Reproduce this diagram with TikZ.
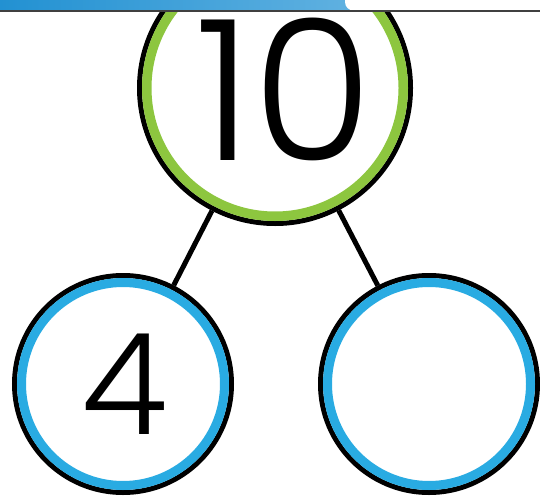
\documentclass[tikz,border=0pt]{standalone}
\usepackage{fontspec}
\newfontfamily\digitfont{Poppins}[UprightFont=* Light]
\definecolor{ringgreen}{RGB}{141,198,63}
\definecolor{ringblue}{RGB}{41,171,226}
\definecolor{barleft}{RGB}{34,145,210}
\definecolor{barright}{RGB}{98,178,225}
\tikzset{
  ring/.style={circle, draw=black, line width=5pt, minimum size=#1, inner sep=0pt, fill=white},
  link/.style={draw=black, line width=5pt},
  digit/.style={inner sep=0pt, font=\digitfont\fontsize{#1}{#1}\selectfont}
}
\begin{document}
\begin{tikzpicture}[x=1pt,y=-1pt]
\useasboundingbox[fill=white] (0,0) rectangle (540,495);
% circles
\node[ring=271pt] (top) at (275,88) {};
\node[ring=217pt] (left) at (123,384) {};
\node[ring=217pt] (right) at (429,384) {};
\draw[ringgreen, line width=9.5pt] (top.center) circle[radius=128.25pt];
\draw[ringblue, line width=9pt] (left.center) circle[radius=101.5pt];
\draw[ringblue, line width=9pt] (right.center) circle[radius=101.5pt];
% connectors
\draw[link] (top) -- (left);
\draw[link] (top) -- (right);
% numbers
\node[digit=196] (ten) at (284,89) {10};
\node[digit=141] (four) at (125,384) {4};
% top bar
\fill[white] (0,0) rectangle (540,11);
\shade[left color=barleft, right color=barright] (0,0) rectangle (365,10.5);
\fill[white] (345,0) -- (345,2) arc[start angle=180, end angle=270, radius=8.5pt] -- (540,10.5) -- (540,0) -- cycle;
\draw[black!75, line width=1.6pt] (0,11) -- (540,11);
\end{tikzpicture}
\end{document}
